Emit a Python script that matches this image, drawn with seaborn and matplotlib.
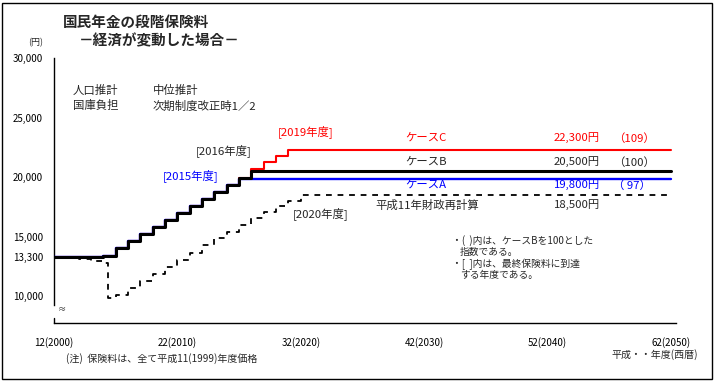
import matplotlib
matplotlib.use("Agg")
import matplotlib.pyplot as plt
import seaborn as sns
import pandas as pd
from matplotlib.patches import Rectangle

# --- data (yen, 1999 prices) ---
years_b = [2000, 2004, 2005, 2006, 2007, 2008, 2009, 2010, 2011, 2012, 2013, 2014, 2015, 2016, 2050]
case_b = [13300, 13400, 14050, 14600, 15200, 15780, 16370, 16950, 17560, 18180, 18740, 19300, 19900, 20500, 20500]

years_a = [2000, 2004, 2005, 2006, 2007, 2008, 2009, 2010, 2011, 2012, 2013, 2014, 2015, 2050]
case_a = [13300, 13400, 14050, 14600, 15200, 15780, 16370, 16950, 17560, 18180, 18740, 19300, 19800, 19800]

years_c = [2000, 2004, 2005, 2006, 2007, 2008, 2009, 2010, 2011, 2012, 2013, 2014, 2015, 2016, 2017, 2018, 2019, 2050]
case_c = [13300, 13400, 14050, 14600, 15200, 15780, 16370, 16950, 17560, 18180, 18740, 19300, 19900, 20650, 21250, 21800, 22300, 22300]

years_h11 = [2000, 2002, 2003, 2004, 2004.4, 2005, 2006, 2007, 2008, 2009, 2010, 2011, 2012, 2013,
             2014, 2015, 2016, 2017, 2018, 2019, 2020, 2050]
case_h11 = [13300, 13150, 12950, 12750, 9800, 10100, 10650, 11250, 11850, 12450, 13050, 13650, 14250, 14850,
            15400, 16000, 16600, 17100, 17550, 18000, 18500, 18500]

x_ticks = [2000, 2010, 2020, 2030, 2040, 2050]
x_labels = ["12(2000)", "22(2010)", "32(2020)", "42(2030)", "52(2040)", "62(2050)"]
y_ticks = [10000, 13300, 15000, 20000, 25000, 30000]
y_labels = ["10,000", "13,300", "15,000", "20,000", "25,000", "30,000"]
y_minor = [12500, 17500, 22500]

W, H = 714, 381
sns.set_style("white")
plt.rcParams['font.family'] = ['Noto Sans CJK JP', 'DejaVu Sans']

fig = plt.figure(figsize=(W / 100, H / 100), dpi=100)
ax = fig.add_axes([54 / W, (H - 323) / H, (676 - 54) / W, (323 - 58) / H])

df_c = pd.DataFrame({"year": years_c, "yen": case_c})
df_a = pd.DataFrame({"year": years_a, "yen": case_a})
df_b = pd.DataFrame({"year": years_b, "yen": case_b})
df_h = pd.DataFrame({"year": years_h11, "yen": case_h11})

sns.lineplot(data=df_c, x="year", y="yen", ax=ax, color="#ff0000", lw=1.5, drawstyle="steps-post", zorder=2)
sns.lineplot(data=df_a, x="year", y="yen", ax=ax, color="#0000ff", lw=1.7, drawstyle="steps-post", zorder=3)
sns.lineplot(data=df_b, x="year", y="yen", ax=ax, color="black", lw=2.2, drawstyle="steps-post", zorder=4)
sns.lineplot(data=df_h, x="year", y="yen", ax=ax, color="black", lw=1.3, drawstyle="steps-post",
             linestyle=(0, (3.2, 3.2)), zorder=5)

ax.set_xlim(2000, 2050.4)
ax.set_ylim(7737, 30000)
ax.set_xlabel("")
ax.set_ylabel("")
for s in ["top", "right"]:
    ax.spines[s].set_visible(False)
for s in ["left", "bottom"]:
    ax.spines[s].set_color("black")
    ax.spines[s].set_linewidth(1.0)
ax.spines["left"].set_bounds(9250, 30000)
# short piece of the broken y axis below the break
ax.plot([0, 0], [0, 0.019], transform=ax.transAxes, color="black", lw=1.0, clip_on=False)

ax.set_xticks(x_ticks, x_labels)
ax.set_yticks(y_ticks, y_labels)
ax.set_yticks(y_minor, minor=True)
ax.tick_params(axis="both", which="both", direction="in", length=4, width=0.8, color="black",
               labelsize=7, labelcolor="black")
ax.tick_params(axis="x", pad=10)
ax.tick_params(axis="y", pad=8)
ax.grid(False)


def put(x, y, s, **kw):
    kw.setdefault("va", "center")
    kw.setdefault("fontsize", 8.2)
    fig.text(x / W, 1 - y / H, s, **kw)


put(63, 22, "国民年金の段階保険料", fontsize=10.5, fontweight="bold")
put(79, 40, "－経済が変動した場合－", fontsize=10.5, fontweight="bold")
put(28, 43, "(円)", fontsize=6.5)
put(58, 310, "≈", fontsize=6)

put(73, 90, "人口推計")
put(153, 90, "中位推計")
put(73, 106, "国庫負担")
put(153, 106, "次期制度改正時1／2")

put(278, 132, "[2019年度]", color="#ff0000")
put(196, 151, "[2016年度]")
put(163, 176, "[2015年度]", color="#0000ff")
put(293, 214, "[2020年度]")

put(405, 138, "ケースC", color="#ff0000")
put(600, 138, "22,300円", color="#ff0000", ha="right")
put(613, 138, "（109）", color="#ff0000")
put(405, 162, "ケースB")
put(600, 162, "20,500円", ha="right")
put(613, 162, "（100）")
put(405, 185, "ケースA", color="#0000ff")
put(600, 185, "19,800円", color="#0000ff", ha="right")
put(613, 185, "（ 97）", color="#0000ff")
put(375, 205, "平成11年財政再計算")
put(600, 205, "18,500円", ha="right")

put(452, 241, "・(  )内は、ケースBを100とした", fontsize=7)
put(460, 252, "指数である。", fontsize=7)
put(452, 264, "・[  ]内は、最終保険料に到達", fontsize=7)
put(460, 275, "する年度である。", fontsize=7)

put(698, 355, "平成・・年度(西暦)", fontsize=7.2, ha="right")
put(66, 359, "(注)  保険料は、全て平成11(1999)年度価格", fontsize=7.2)

fig.patches.append(Rectangle((2 / W, 2 / H), (W - 4) / W, (H - 5) / H, transform=fig.transFigure,
                             fill=False, edgecolor="black", lw=1.0))

fig.savefig("out.png", dpi=100)
